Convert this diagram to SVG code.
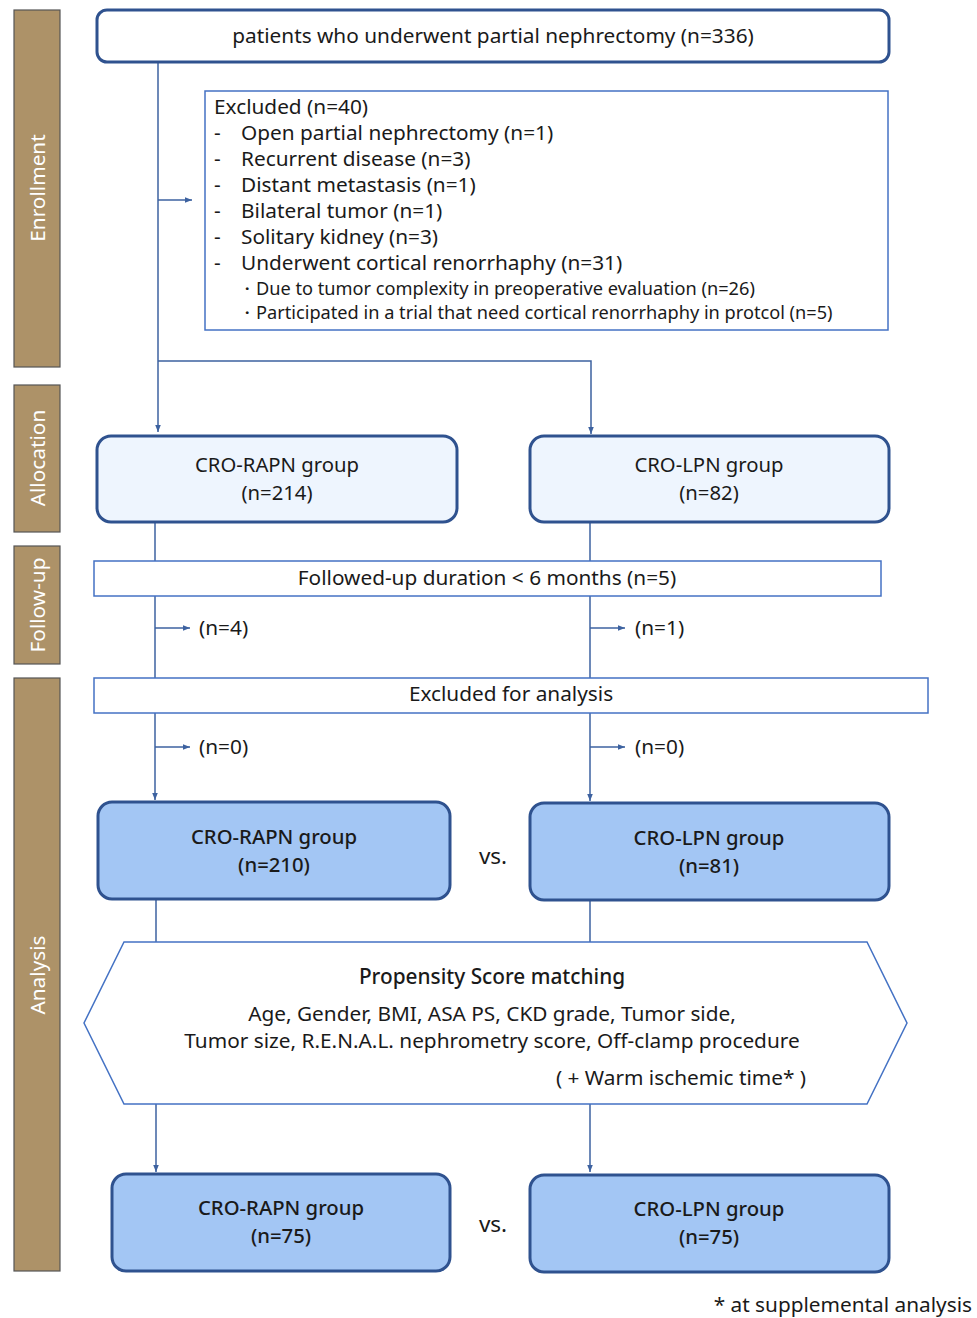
<svg xmlns="http://www.w3.org/2000/svg" width="977" height="1318" viewBox="0 0 977 1318">
<style>
text{font-family:"Noto Sans",Lato,"Liberation Sans",sans-serif;fill:#1a1a1a}
.side rect{fill:#AD9268;stroke:#555;stroke-width:1.2}
.side text{fill:#fff;font-size:20.8px;text-anchor:middle;dominant-baseline:central}
.rb{stroke:#2F528F;stroke-width:3}
.lt{fill:#EEF5FE}
.dk{fill:#A3C6F4}
.thin{fill:#fff;stroke:#4472C4;stroke-width:1.5}
.t20{font-size:20.8px}
.t2{font-size:20.3px;text-anchor:middle}
.c{text-anchor:middle}
.b{font-weight:500}
.conn path{fill:none;stroke:#3D62A0;stroke-width:1.5}
</style>
<defs>
<marker id="ah" viewBox="0 0 10 10" refX="10" refY="5" markerWidth="7" markerHeight="7" orient="auto" markerUnits="userSpaceOnUse">
<path d="M0,1 L10,5 L0,9 z" fill="#3D62A0"/>
</marker>
</defs>
<g class="side" id="stage-enrollment"><rect x="14" y="10" width="46" height="357"/><text transform="translate(37,188) rotate(-90)">Enrollment</text></g>
<g class="side" id="stage-allocation"><rect x="14" y="385" width="46" height="147"/><text transform="translate(37,458) rotate(-90)">Allocation</text></g>
<g class="side" id="stage-followup"><rect x="14" y="546" width="46" height="118"/><text transform="translate(37,605) rotate(-90)">Follow-up</text></g>
<g class="side" id="stage-analysis"><rect x="14" y="678" width="46" height="593"/><text transform="translate(37,975) rotate(-90)">Analysis</text></g>

<g class="conn" id="connectors">
<path d="M158,62 V432" marker-end="url(#ah)"/>
<path d="M158,200 H192" marker-end="url(#ah)"/>
<path d="M158,361 H591 V434" marker-end="url(#ah)"/>
<path d="M155,522 V800" marker-end="url(#ah)"/>
<path d="M590,522 V801" marker-end="url(#ah)"/>
<path d="M155,628 H190" marker-end="url(#ah)"/>
<path d="M590,628 H625" marker-end="url(#ah)"/>
<path d="M155,747 H190" marker-end="url(#ah)"/>
<path d="M590,747 H625" marker-end="url(#ah)"/>
<path d="M156,899 V942"/>
<path d="M590,900 V942"/>
<path d="M156,1104 V1172" marker-end="url(#ah)"/>
<path d="M590,1104 V1172" marker-end="url(#ah)"/>
</g>

<g id="n-patients"><rect x="97" y="10" width="792" height="52" rx="10" fill="#fff" class="rb"/><text x="493" y="43" class="t20 c">patients who underwent partial nephrectomy (n=336)</text></g>

<g id="n-excluded"><rect x="205" y="91" width="683" height="239" class="thin"/>
<text x="214" y="114" class="t20">Excluded (n=40)</text>
<g class="t20">
<text x="214" y="140">-</text><text x="241" y="140">Open partial nephrectomy (n=1)</text>
<text x="214" y="166">-</text><text x="241" y="166">Recurrent disease (n=3)</text>
<text x="214" y="192">-</text><text x="241" y="192">Distant metastasis (n=1)</text>
<text x="214" y="218">-</text><text x="241" y="218">Bilateral tumor (n=1)</text>
<text x="214" y="244">-</text><text x="241" y="244">Solitary kidney (n=3)</text>
<text x="214" y="270">-</text><text x="241" y="270">Underwent cortical renorrhaphy (n=31)</text>
</g>
<text x="238" y="295" font-size="18.2">・Due to tumor complexity in preoperative evaluation  (n=26)</text>
<text x="238" y="319" font-size="18.2">・Participated in a trial that need cortical renorrhaphy in protcol (n=5)</text>
</g>

<g id="n-alloc-rapn"><rect x="97" y="436" width="360" height="86" rx="14" class="rb lt"/><text x="277" y="472" class="t2">CRO-RAPN group</text><text x="277" y="499.7" class="t2">(n=214)</text></g>
<g id="n-alloc-lpn"><rect x="530" y="436" width="359" height="86" rx="14" class="rb lt"/><text x="709" y="472" class="t2">CRO-LPN group</text><text x="709" y="499.7" class="t2">(n=82)</text></g>

<g id="n-followup"><rect x="94" y="561" width="787" height="35" class="thin"/><text x="487" y="585" class="t20 c">Followed-up duration &lt; 6 months (n=5)</text></g>
<g id="l-n4"><text x="199" y="635" class="t20">(n=4)</text></g>
<g id="l-n1"><text x="635" y="635" class="t20">(n=1)</text></g>

<g id="n-excl-analysis"><rect x="94" y="678" width="834" height="35" class="thin"/><text x="511" y="701" class="t20 c">Excluded for analysis</text></g>
<g id="l-n0a"><text x="199" y="754" class="t20">(n=0)</text></g>
<g id="l-n0b"><text x="635" y="754" class="t20">(n=0)</text></g>

<g id="n-an-rapn"><rect x="98" y="802" width="352" height="97" rx="14" class="rb dk"/><text x="274" y="844" class="t2 b">CRO-RAPN group</text><text x="274" y="871.7" class="t2 b">(n=210)</text></g>
<g id="n-an-lpn"><rect x="530" y="803" width="359" height="97" rx="14" class="rb dk"/><text x="709" y="845" class="t2 b">CRO-LPN group</text><text x="709" y="872.7" class="t2 b">(n=81)</text></g>
<text x="493" y="864" font-size="22.5" class="c">vs.</text>

<g id="n-psm"><polygon points="124,942 867,942 907,1023 867,1104 124,1104 84,1023" class="thin"/>
<text x="492" y="984" class="t20 c b">Propensity Score matching</text>
<text x="492" y="1021" class="t20 c">Age, Gender, BMI, ASA PS, CKD grade, Tumor side,</text>
<text x="492" y="1048" class="t20 c">Tumor size, R.E.N.A.L. nephrometry score, Off-clamp procedure</text>
<text x="681" y="1085" class="t20 c">( + Warm ischemic time* )</text>
</g>

<g id="n-fin-rapn"><rect x="112" y="1174" width="338" height="97" rx="14" class="rb dk"/><text x="281" y="1215" class="t2 b">CRO-RAPN group</text><text x="281" y="1242.7" class="t2 b">(n=75)</text></g>
<g id="n-fin-lpn"><rect x="530" y="1175" width="359" height="97" rx="14" class="rb dk"/><text x="709" y="1216" class="t2 b">CRO-LPN group</text><text x="709" y="1243.7" class="t2 b">(n=75)</text></g>
<text x="493" y="1232" font-size="22.5" class="c">vs.</text>

<text x="972" y="1312" class="t20" text-anchor="end">* at supplemental analysis</text>
</svg>
